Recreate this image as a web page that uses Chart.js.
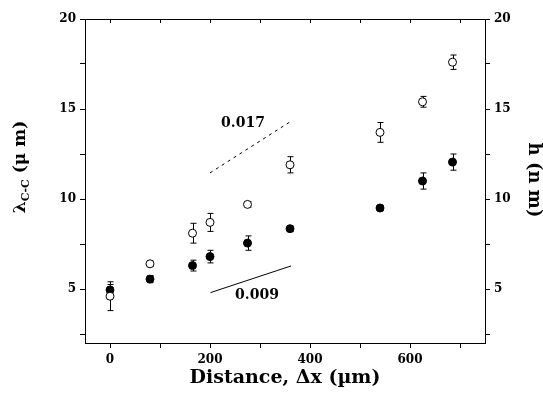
<!DOCTYPE html>
<html>
<head>
<meta charset="utf-8">
<script src="https://cdn.jsdelivr.net/npm/chart.js@4/dist/chart.umd.min.js"></script>
<style>
  html, body { margin: 0; padding: 0; background: #fff; }
</style>
</head>
<body>
<canvas id="grafico" width="543" height="400"></canvas>
<script>
// Datos
const distancia = [0, 80, 165, 200, 275, 360, 540, 625, 685];       // Δx (µm)
const lambdaCC = [4.6, 6.4, 8.1, 8.7, 9.7, 11.9, 13.7, 15.4, 17.6];  // círculos abiertos
const lambdaErr = [0.8, 0.15, 0.55, 0.5, 0.15, 0.45, 0.55, 0.3, 0.4];
const alturaH = [4.95, 5.55, 6.3, 6.8, 7.55, 8.35, 9.5, 11.0, 12.05]; // círculos llenos
const alturaErr = [0.3, 0.2, 0.3, 0.35, 0.4, 0.15, 0.15, 0.45, 0.45];

// Rectas de pendiente
const pendienteAbiertaX = [200, 362];
const pendienteAbiertaY = [11.45, 14.32];
const pendienteLlenaX = [201, 362];
const pendienteLlenaY = [4.8, 6.28];

// Marcas de los ejes
const xTicks = [0, 100, 200, 300, 400, 500, 600, 700];
const xEtiquetas = [0, 200, 400, 600];
const yTicks = [2.5, 5, 7.5, 10, 12.5, 15, 17.5, 20];
const yEtiquetas = [5, 10, 15, 20];

const fuente = '"DejaVu Serif", serif';

function puntos(xs, ys) {
  return xs.map((x, i) => ({ x: x, y: ys[i] }));
}

// Plugin: barras de error, marco, textos y títulos de ejes
const extras = {
  id: 'extras',
  beforeDatasetsDraw(chart) {
    const ctx = chart.ctx;
    const xs = chart.scales.x, ys = chart.scales.y;
    ctx.save();
    ctx.strokeStyle = '#000';
    ctx.lineWidth = 1;
    [[lambdaCC, lambdaErr], [alturaH, alturaErr]].forEach(([vals, errs]) => {
      distancia.forEach((d, i) => {
        const px = Math.round(xs.getPixelForValue(d)) + 0.5;
        const top = ys.getPixelForValue(vals[i] + errs[i]);
        const bot = ys.getPixelForValue(vals[i] - errs[i]);
        ctx.beginPath();
        ctx.moveTo(px, top); ctx.lineTo(px, bot);
        ctx.moveTo(px - 3, top); ctx.lineTo(px + 3, top);
        ctx.moveTo(px - 3, bot); ctx.lineTo(px + 3, bot);
        ctx.stroke();
      });
    });
    ctx.restore();
  },
  afterDraw(chart) {
    const ctx = chart.ctx;
    const a = chart.chartArea;
    const xs = chart.scales.x, ys = chart.scales.y;
    ctx.save();
    // línea superior y marcas hacia dentro
    ctx.strokeStyle = '#000';
    ctx.lineWidth = 1;
    ctx.beginPath();
    ctx.moveTo(a.left, a.top + 0.5); ctx.lineTo(a.right, a.top + 0.5);
    xTicks.forEach(v => {
      const px = Math.round(xs.getPixelForValue(v)) + 0.5;
      ctx.moveTo(px, a.top); ctx.lineTo(px, a.top + 4);
    });
    ctx.stroke();

    // textos de pendiente
    ctx.fillStyle = '#000';
    ctx.font = 'bold 14px ' + fuente;
    ctx.textAlign = 'center';
    ctx.textBaseline = 'middle';
    ctx.fillText('0.017', xs.getPixelForValue(266), ys.getPixelForValue(14.22));
    ctx.fillText('0.009', xs.getPixelForValue(294), ys.getPixelForValue(4.67));

    // título eje x
    ctx.font = 'bold 19px ' + fuente;
    ctx.fillText('Distance, \u0394x (\u00b5m)', 285, 378);

    // título eje izquierdo con subíndice
    ctx.save();
    ctx.translate(21, 167);
    ctx.rotate(-Math.PI / 2);
    const f1 = 'bold 17px ' + fuente, f2 = 'bold 11px ' + fuente;
    const p1 = '\u03bb', p2 = 'C-C', p3 = ' (\u03bc m)';
    ctx.font = f1; const w1 = ctx.measureText(p1).width, w3 = ctx.measureText(p3).width;
    ctx.font = f2; const w2 = ctx.measureText(p2).width;
    let x0 = -(w1 + w2 + w3) / 2;
    ctx.textAlign = 'left';
    ctx.font = f1; ctx.fillText(p1, x0, 0);
    ctx.font = f2; ctx.fillText(p2, x0 + w1, 5);
    ctx.font = f1; ctx.fillText(p3, x0 + w1 + w2, 0);
    ctx.restore();

    // título eje derecho
    ctx.save();
    ctx.translate(534, 180);
    ctx.rotate(Math.PI / 2);
    ctx.font = 'bold 18px ' + fuente;
    ctx.textAlign = 'center';
    ctx.fillText('h (n m)', 0, 0);
    ctx.restore();
    ctx.restore();
  }
};

const ejeY = (pos, ancho) => ({
  type: 'linear',
  position: pos,
  min: 2,
  max: 20,
  afterBuildTicks: s => { s.ticks = yTicks.map(v => ({ value: v })); },
  afterFit: s => { s.width = ancho; },
  border: { display: true, color: '#000', width: 1 },
  grid: { display: true, drawOnChartArea: false, drawTicks: true, tickLength: 5, color: '#000' },
  ticks: {
    color: '#000',
    padding: 4,
    font: { family: fuente, size: 12, weight: 'bold' },
    callback: v => (yEtiquetas.includes(v) ? String(v) : '')
  }
});

new Chart(document.getElementById('grafico'), {
  type: 'scatter',
  data: {
    datasets: [
      {
        label: 'pendiente abierta',
        data: puntos(pendienteAbiertaX, pendienteAbiertaY),
        showLine: true,
        borderColor: '#000',
        borderWidth: 1,
        borderDash: [3, 4],
        pointRadius: 0
      },
      {
        label: 'pendiente llena',
        data: puntos(pendienteLlenaX, pendienteLlenaY),
        showLine: true,
        borderColor: '#000',
        borderWidth: 1,
        pointRadius: 0
      },
      {
        label: 'lambda C-C',
        data: puntos(distancia, lambdaCC),
        pointRadius: 4,
        pointBackgroundColor: '#fff',
        pointBorderColor: '#000',
        pointBorderWidth: 1
      },
      {
        label: 'h',
        data: puntos(distancia, alturaH),
        pointRadius: 4,
        pointBackgroundColor: '#000',
        pointBorderColor: '#000',
        pointBorderWidth: 1
      }
    ]
  },
  options: {
    responsive: false,
    animation: false,
    layout: { padding: { top: 19, left: 0, right: 0, bottom: 0 } },
    plugins: { legend: { display: false }, tooltip: { enabled: false } },
    scales: {
      x: {
        type: 'linear',
        position: 'bottom',
        min: -50,
        max: 750,
        afterBuildTicks: s => { s.ticks = xTicks.map(v => ({ value: v })); },
        afterFit: s => { s.height = 57; },
        border: { display: true, color: '#000', width: 1 },
        grid: { display: true, drawOnChartArea: false, drawTicks: true, tickLength: 5, color: '#000' },
        ticks: {
          color: '#000',
          padding: 5,
          maxRotation: 0,
          font: { family: fuente, size: 12, weight: 'bold' },
          callback: v => (xEtiquetas.includes(v) ? String(v) : '')
        }
      },
      y: ejeY('left', 85),
      y2: ejeY('right', 58)
    }
  },
  plugins: [extras]
});
</script>
</body>
</html>
